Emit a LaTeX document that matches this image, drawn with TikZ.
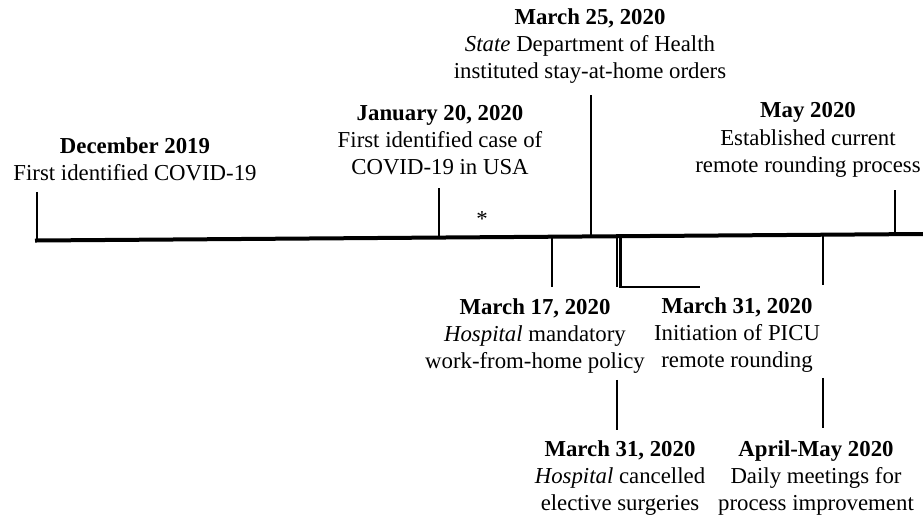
\documentclass[tikz,border=0pt]{standalone}
\usepackage{fontspec}
\setmainfont{Liberation Serif}
\begin{document}
\begin{tikzpicture}[x=0.5pt,y=-0.5pt,
  lbl/.style={align=center,inner sep=0pt,font=\fontsize{11.4}{13.7}\selectfont},
  axisline/.style={line width=2pt,line cap=rect},
  tickline/.style={line width=1.3pt}]
\useasboundingbox (0,0) rectangle (923,519);

% timeline
\coordinate (Ltop) at (37,192);
\coordinate (L) at (37,240.5);
\coordinate (R) at (923,234);
\draw[axisline] (L) -- (R);
\draw[tickline] (Ltop) -- (L);

% points on timeline
\coordinate (pJan) at (439,237.6);
\coordinate (pM25) at (591,236.4);
\coordinate (pM17) at (552,236.7);
\coordinate (pM31a) at (617,236.3);
\coordinate (pM31b) at (620.5,236.3);
\coordinate (pM31r) at (823,234.7);
\coordinate (pMay) at (895,234.2);

% tick ends
\coordinate (tJan) at (439,188);
\coordinate (tM25) at (591,95);
\coordinate (tM17) at (552,287);
\coordinate (tM31a) at (617,287);
\coordinate (tM31b) at (620.5,287);
\coordinate (tM31h) at (700,287);
\coordinate (tM31r) at (823,285);
\coordinate (tMay) at (895,190);

\draw[tickline] (pJan) -- (tJan);
\draw[tickline] (pM25) -- (tM25);
\draw[tickline] (pM17) -- (tM17);
\draw[tickline] (pM31a) -- (tM31a);
\draw[tickline] (pM31b) -- (tM31b) -- (tM31h);
\draw[tickline] (pM31r) -- (tM31r);
\draw[tickline] (pMay) -- (tMay);

% labels
\node[lbl] (dec) at (135,159) {\textbf{December 2019}\\First identified COVID-19};
\node[lbl] (jan) at (440,140) {\textbf{January 20, 2020}\\First identified case of\\COVID-19 in USA};
\node[lbl] (m25) at (590,46) {\textbf{March 25, 2020}\\\textit{State} Department of Health\\instituted stay-at-home orders};
\node[lbl] (may) at (808,140) {\textbf{May 2020}\\Established current\\remote rounding process};
\node[lbl] (m17) at (535,336) {\textbf{March 17, 2020}\\\textit{Hospital} mandatory\\work-from-home policy};
\node[lbl] (m31u) at (737,335) {\textbf{March 31, 2020}\\Initiation of PICU\\remote rounding};
\node[lbl] (m31l) at (620,478) {\textbf{March 31, 2020}\\\textit{Hospital} cancelled\\elective surgeries};
\node[lbl] (apr) at (816,478) {\textbf{April-May 2020}\\Daily meetings for\\process improvement};
\node[lbl] (ast) at (482,219) {*};

% lower ticks
\coordinate (b1top) at (617,380);
\coordinate (b1bot) at (617,430);
\coordinate (b2top) at (823,378);
\coordinate (b2bot) at (823,428);
\draw[tickline] (b1top) -- (b1bot);
\draw[tickline] (b2top) -- (b2bot);
\end{tikzpicture}
\end{document}
